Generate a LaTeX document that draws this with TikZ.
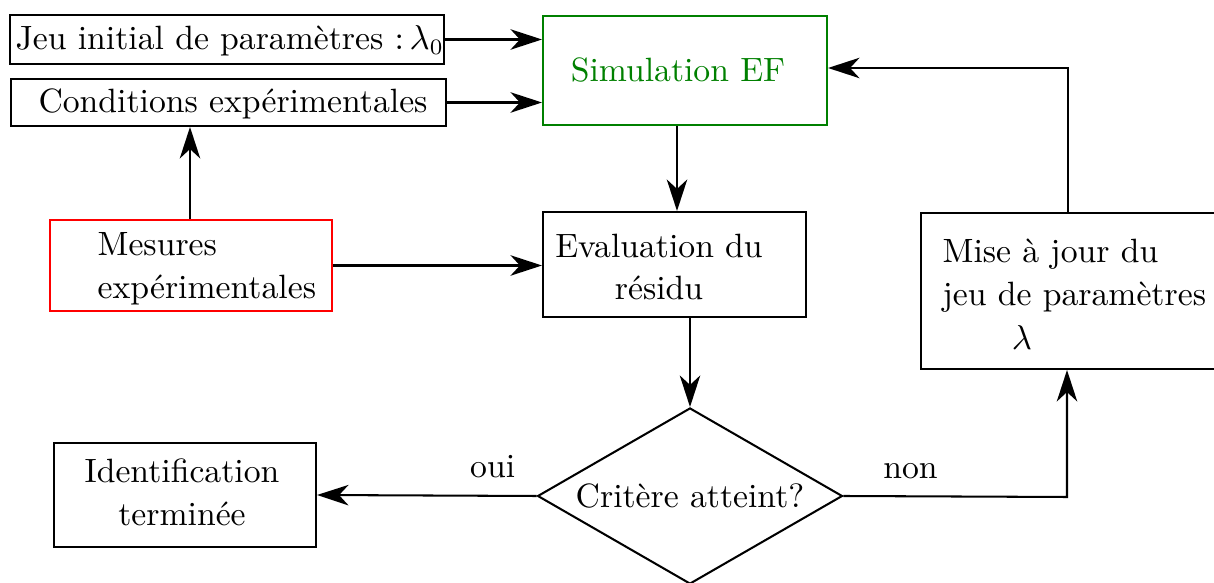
\documentclass[tikz,border=0pt]{standalone}
\usepackage{amsmath}
\usetikzlibrary{arrows.meta,fit,shapes.geometric}
\begin{document}
\begin{tikzpicture}[x=0.3175pt,y=-0.3175pt,
  every node/.append style={font=\fontsize{10.7}{13.1}\selectfont},
  box/.style={draw,line width=0.65pt,inner sep=0pt},
  txt/.style={inner sep=0pt},
  arr/.style={line width=0.65pt,-{Stealth[length=10pt,width=6.5pt,inset=3pt]}}]
\useasboundingbox (0,0) rectangle (1214,583);
% boxes
\node[box,fit={(10,15) (444,64)}] (J) {};
\node[txt,anchor=west] at (15,41) {Jeu initial de paramètres :\,$\lambda_0$};
\node[box,fit={(11,79) (446,126)}] (C) {};
\node[txt] at (233,104) {Conditions expérimentales};
\node[box,draw=green!50!black,fit={(543,16) (827,125)}] (S) {};
\node[txt,text=green!50!black] at (678,70) {Simulation EF};
\node[box,draw=red,fit={(50,220) (332,311)}] (M) {};
\node[txt,anchor=west,align=left] at (97,269) {Mesures\\[0.5pt]expérimentales};
\node[box,fit={(543,212) (806,317)}] (E) {};
\node[txt,align=center] at (659,267) {Evaluation du\\[0.5pt]résidu};
\node[box,fit={(921,213) (1230,369)}] (U) {};
\node[txt,anchor=west,align=left] at (942,294) {Mise à jour du\\[0.7pt]jeu de paramètres\\[0.7pt]\hspace*{22pt}$\lambda$};
\node[box,fit={(54,443) (316,547)}] (I) {};
\node[txt,align=center] at (182,492) {Identification\\[0.5pt]terminée};
\node[draw,line width=0.65pt,shape=diamond,aspect=1.73,inner sep=0pt,minimum width=96.8pt,minimum height=55.9pt] (D) at (690,496) {Critère atteint?};
% connectors
\draw[arr] (J.east) -- (J.east -| S.west);
\draw[arr] (C.east) -- (C.east -| S.west);
\draw[arr] (M.north -| 190,0) -- (C.south -| 190,0);
\draw[arr] (M.east) -- (M.east -| E.west);
\draw[arr] (S.south -| 677,0) -- (E.north -| 677,0);
\draw[arr] (E.south -| D.north) -- (D.north);
\draw[arr] (D.west) -- node[above=2pt,pos=0.2]{oui} (I.east);
\coordinate (k1) at (1067,497);
\draw[arr] (D.east) -- node[above=2pt,pos=0.3]{non} (k1) -- (U.south -| k1);
\coordinate (k2) at (1068,68);
\draw[arr] (U.north -| k2) -- (k2) -- (k2 -| S.east);
\end{tikzpicture}
\end{document}
